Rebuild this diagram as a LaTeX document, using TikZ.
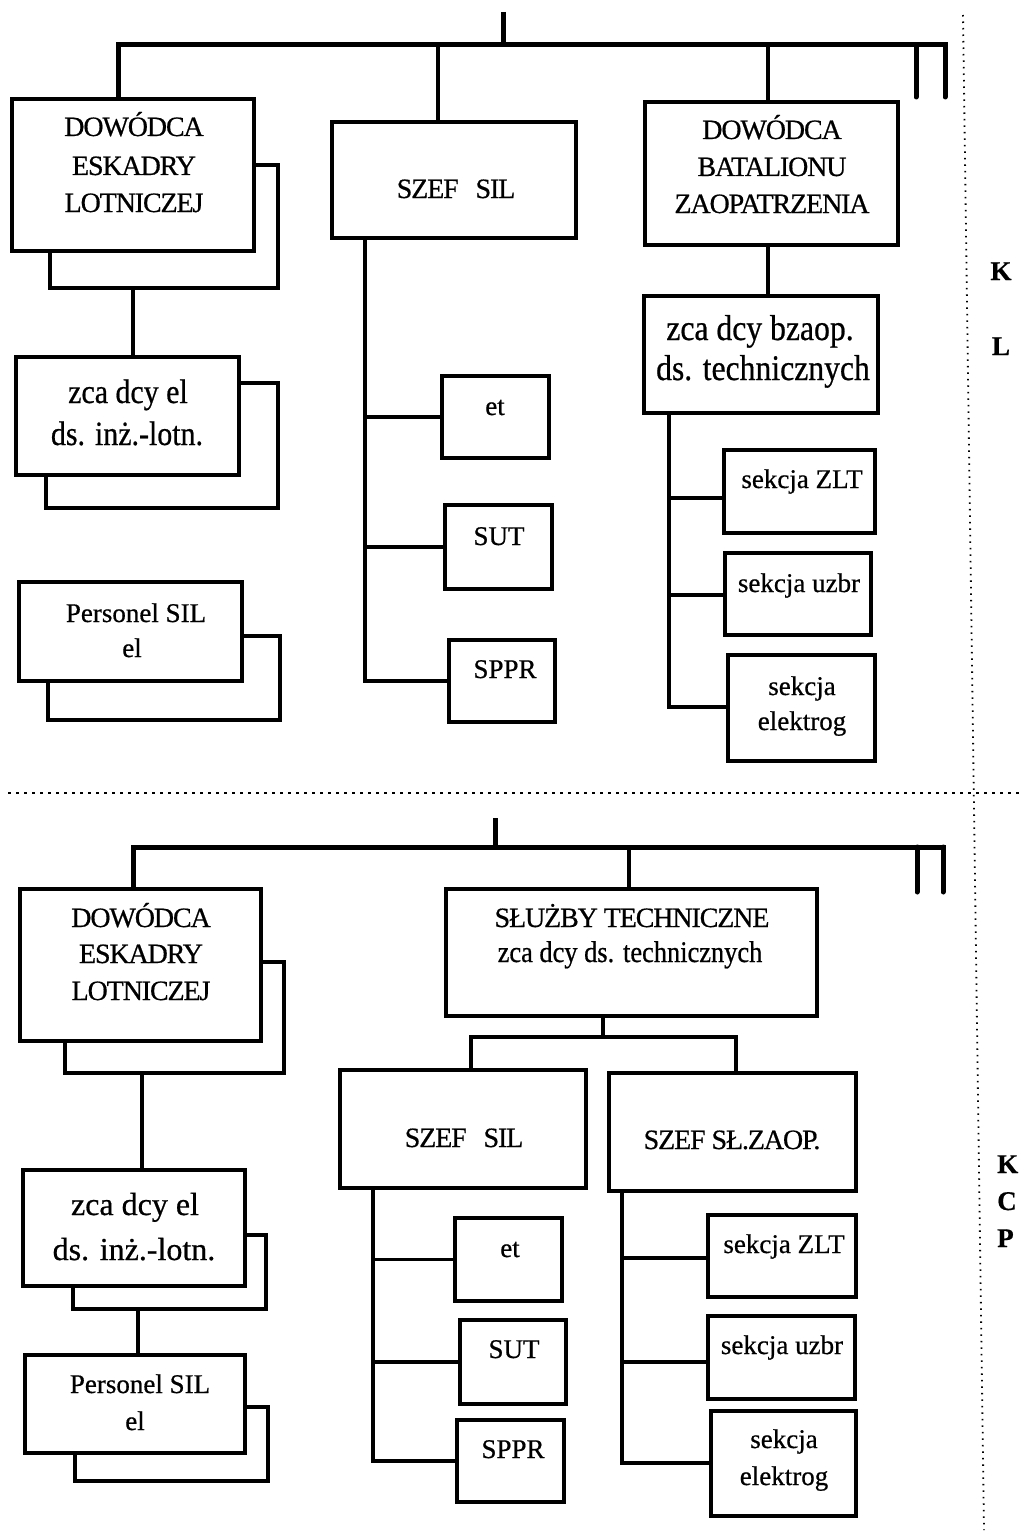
\documentclass[tikz,border=0pt]{standalone}
\usepackage{fontspec}
\setmainfont{Liberation Serif}[FakeBold=0.6]
\newfontfamily\capf{Liberation Serif}[FakeBold=0.6, LetterSpace=-4]
\newfontfamily\cnd{Liberation Serif}[FakeStretch=0.88, FakeBold=0.6]
\usetikzlibrary{calc}
\tikzset{
  box/.style={draw, line width=4.5pt, inner sep=0pt},
  bus/.style={line width=5pt},
  conn/.style={line width=3.5pt},
  shad/.style={line width=4pt, line join=miter},
  capt/.style={font=\capf\fontsize{28}{30}\selectfont, anchor=base, inner sep=0pt},
  smallt/.style={font=\fontsize{27}{30}\selectfont, anchor=base, inner sep=0pt},
  lowA/.style={font=\cnd\fontsize{34}{38}\selectfont, anchor=base, inner sep=0pt},
  lowB/.style={font=\cnd\fontsize{36}{40}\selectfont, anchor=base, inner sep=0pt},
  lowC/.style={font=\cnd\fontsize{30}{34}\selectfont, anchor=base, inner sep=0pt},
  lowD/.style={font=\fontsize{32}{36}\selectfont, anchor=base, inner sep=0pt},
  lab/.style={font=\bfseries\fontsize{27}{30}\selectfont, anchor=base, inner sep=0pt},
  dotv/.style={line width=1.8pt, dash pattern=on 1.5pt off 5pt},
  doth/.style={line width=1.5pt, dash pattern=on 3pt off 5pt}
}
\begin{document}
\begin{tikzpicture}[x=1pt,y=-1pt]
\useasboundingbox (0,0) rectangle (1019,1533);

% ================= TOP SECTION =================
% boxes
\node[box, minimum width=242pt, minimum height=152pt] (A1) at (133,175) {};
\node[box, minimum width=223pt, minimum height=118pt] (A2) at (127.5,416) {};
\node[box, minimum width=223pt, minimum height=99pt] (A3) at (130.5,631.5) {};
\node[box, minimum width=244pt, minimum height=116pt] (B1) at (454,180) {};
\node[box, minimum width=107pt, minimum height=82pt] (Bet) at (495.5,417) {};
\node[box, minimum width=107pt, minimum height=84pt] (BSUT) at (498.5,547) {};
\node[box, minimum width=106pt, minimum height=82pt] (BSPPR) at (502,681) {};
\node[box, minimum width=253pt, minimum height=143pt] (C1) at (771.5,173.5) {};
\node[box, minimum width=234pt, minimum height=117pt] (C2) at (761,354.5) {};
\node[box, minimum width=151pt, minimum height=83pt] (D1) at (799.5,491.5) {};
\node[box, minimum width=146pt, minimum height=82pt] (D2) at (798,594) {};
\node[box, minimum width=147pt, minimum height=106pt] (D3) at (801.5,708) {};

% shadows
\draw[shad] (256,165) -- (278,165) -- (278,288) -- (50,288) -- (50,253);
\draw[shad] (241,383) -- (278,383) -- (278,508) -- (46,508) -- (46,477);
\draw[shad] (244,636) -- (280,636) -- (280,720) -- (48,720) -- (48,683);

% bus
\coordinate (tTop) at (503,12);
\coordinate (tBus) at (503,45);
\coordinate (tL) at (118,45);
\coordinate (tR) at (945,45);
\coordinate (tRe) at (945,97);
\coordinate (tR2) at (916,45);
\coordinate (tR2e) at (916,97);
\coordinate (tB) at (438,45);
\coordinate (tC) at (768,45);
\draw[bus] (tTop) -- (tBus);
\draw[bus, line join=miter] (A1.north -| tL) -- (tL) -- (tR) -- (tRe);
\draw[bus, line cap=round] (tR) -- (tRe);
\draw[bus, line cap=round] (tR2) -- (tR2e);
\draw[conn, line width=4pt] (tB) -- (tB |- B1.north);
\draw[conn, line width=4pt] (tC) -- (tC |- C1.north);

% left column connector
\coordinate (sA1) at (133,288);
\draw[conn] (sA1) -- (sA1 |- A2.north);

% SZEF SIL tree
\coordinate (bS) at (365,240);
\coordinate (bE) at (365,681);
\draw[conn, line join=miter] (bS) -- (bE) -- (BSPPR.west);
\draw[conn] (Bet.west -| bS) -- (Bet.west);
\draw[conn] (BSUT.west -| bS) -- (BSUT.west);

% Batalion tree
\draw[conn] (C1.south -| tC) -- (C2.north -| tC);
\coordinate (cS) at (669,415);
\coordinate (cE) at (669,707);
\draw[conn, line join=miter] (cS) -- (cE) -- (cE -| D3.west);
\coordinate (cB1) at (669,498);
\coordinate (cB2) at (669,595);
\draw[conn] (cB1) -- (cB1 -| D1.west);
\draw[conn] (cB2) -- (cB2 -| D2.west);

% texts top
\node[capt] (A1a) at (134,136) {DOWÓDCA};
\node[capt] (A1b) at (134,175) {ESKADRY};
\node[capt] (A1c) at (134,212) {LOTNICZEJ};
\node[lowA] (A2a) at (128,403) {zca dcy el};
\node[lowA] (A2b) at (127,445) {ds. inż.-lotn.};
\node[smallt] (A3a) at (136,622) {Personel SIL};
\node[smallt] (A3b) at (132,657) {el};
\node[capt] (B1t) at (456,198) {SZEF\hspace{0.6em}SIL};
\node[smallt] (Bett) at (495,415) {et};
\node[smallt] (BSUTt) at (499,545) {SUT};
\node[smallt] (BSPPRt) at (505,678) {SPPR};
\node[capt] (C1a) at (772,139) {DOWÓDCA};
\node[capt] (C1b) at (772,176) {BATALIONU};
\node[capt] (C1c) at (772,213) {ZAOPATRZENIA};
\node[lowB] (C2a) at (760,340) {zca dcy bzaop.};
\node[lowB] (C2b) at (763,380) {ds. technicznych};
\node[smallt] (D1t) at (802,488) {sekcja ZLT};
\node[smallt] (D2t) at (799,592) {sekcja uzbr};
\node[smallt] (D3a) at (802,695) {sekcja};
\node[smallt] (D3b) at (802,730) {elektrog};

% ================= separators =================
\coordinate (vT) at (963,15);
\coordinate (vB) at (984,1530);
\draw[dotv] (vT) -- (vB);
\coordinate (hL) at (8,793);
\coordinate (hR) at (1019,793);
\draw[doth] (hL) -- (hR);

\node[lab] (lK) at (1001,280) {K};
\node[lab] (lL) at (1001,355) {L};
\node[lab, anchor=base west] (lK2) at (997,1173) {K};
\node[lab, anchor=base west] (lC2) at (997,1210) {C};
\node[lab, anchor=base west] (lP2) at (997,1247) {P};

% ================= BOTTOM SECTION =================
\node[box, minimum width=241pt, minimum height=152pt] (E1) at (140.5,965) {};
\node[box, minimum width=222pt, minimum height=116pt] (E2) at (134,1228) {};
\node[box, minimum width=220pt, minimum height=98pt] (E3) at (135,1404) {};
\node[box, minimum width=371pt, minimum height=127pt] (F1) at (631.5,952.5) {};
\node[box, minimum width=246pt, minimum height=118pt] (G1) at (463,1129) {};
\node[box, minimum width=247pt, minimum height=118pt] (H1) at (732.5,1132) {};
\node[box, minimum width=107pt, minimum height=83pt] (Get) at (508.5,1259.5) {};
\node[box, minimum width=106pt, minimum height=84pt] (GSUT) at (513,1362) {};
\node[box, minimum width=107pt, minimum height=82pt] (GSPPR) at (510.5,1461) {};
\node[box, minimum width=148pt, minimum height=82pt] (HZLT) at (782,1256) {};
\node[box, minimum width=147pt, minimum height=83pt] (Huzbr) at (781.5,1357.5) {};
\node[box, minimum width=145pt, minimum height=105pt] (Helek) at (783.5,1463.5) {};

% shadows
\draw[shad] (263,962) -- (284,962) -- (284,1073) -- (65,1073) -- (65,1043);
\draw[shad] (247,1235) -- (266,1235) -- (266,1309) -- (73,1309) -- (73,1288);
\draw[shad] (247,1407) -- (268,1407) -- (268,1481) -- (75,1481) -- (75,1455);

% bus
\coordinate (bTop) at (495,818);
\coordinate (bBus) at (495,847);
\coordinate (bL) at (133,847);
\coordinate (bR) at (943,847);
\coordinate (bRe) at (943,892);
\coordinate (bR2) at (917,847);
\coordinate (bR2e) at (917,892);
\coordinate (bF) at (629,847);
\draw[bus] (bTop) -- (bBus);
\draw[bus, line join=miter] (E1.north -| bL) -- (bL) -- (bR) -- (bRe);
\draw[bus, line cap=round] (bR) -- (bRe);
\draw[bus, line cap=round] (bR2) -- (bR2e);
\draw[conn, line width=4pt] (bF) -- (bF |- F1.north);

% left column connectors
\coordinate (sE1) at (142,1073);
\draw[conn] (sE1) -- (sE1 |- E2.north);
\coordinate (sE2) at (138,1309);
\draw[conn] (sE2) -- (sE2 |- E3.north);

% SLUZBY split
\coordinate (fJ) at (603,1037);
\coordinate (fL) at (471,1037);
\coordinate (fR) at (736,1037);
\draw[conn] (F1.south -| fJ) -- (fJ);
\draw[conn, line join=miter] (fL |- G1.north) -- (fL) -- (fR) -- (fR |- H1.north);

% SZEF SIL tree
\coordinate (gS) at (373,1190);
\coordinate (gE) at (373,1461);
\draw[conn, line join=miter] (gS) -- (gE) -- (GSPPR.west);
\draw[conn] (Get.west -| gS) -- (Get.west);
\draw[conn] (GSUT.west -| gS) -- (GSUT.west);

% SZEF SL.ZAOP tree
\coordinate (hS) at (622,1193);
\coordinate (hE) at (622,1463);
\draw[conn, line join=miter] (hS) -- (hE) -- (hE -| Helek.west);
\coordinate (hB1) at (622,1258);
\coordinate (hB2) at (622,1362);
\draw[conn] (hB1) -- (hB1 -| HZLT.west);
\draw[conn] (hB2) -- (hB2 -| Huzbr.west);

% texts bottom
\node[capt] (E1a) at (141,927) {DOWÓDCA};
\node[capt] (E1b) at (141,963) {ESKADRY};
\node[capt] (E1c) at (141,1000) {LOTNICZEJ};
\node[capt] (F1a) at (632,927) {SŁUŻBY TECHNICZNE};
\node[lowC] (F1b) at (630,962) {zca dcy ds. technicznych};
\node[capt] (G1t) at (464,1147) {SZEF\hspace{0.6em}SIL};
\node[capt] (H1t) at (732,1149) {SZEF SŁ.ZAOP.};
\node[lowD] (E2a) at (135,1215) {zca dcy el};
\node[lowD] (E2b) at (134,1260) {ds. inż.-lotn.};
\node[smallt] (E3a) at (140,1393) {Personel SIL};
\node[smallt] (E3b) at (135,1430) {el};
\node[smallt] (Gett) at (510,1257) {et};
\node[smallt] (GSUTt) at (514,1358) {SUT};
\node[smallt] (GSPPRt) at (513,1458) {SPPR};
\node[smallt] (HZLTt) at (784,1253) {sekcja ZLT};
\node[smallt] (Huzbrt) at (782,1354) {sekcja uzbr};
\node[smallt] (Heleka) at (784,1448) {sekcja};
\node[smallt] (Helekb) at (784,1485) {elektrog};
\end{tikzpicture}
\end{document}
